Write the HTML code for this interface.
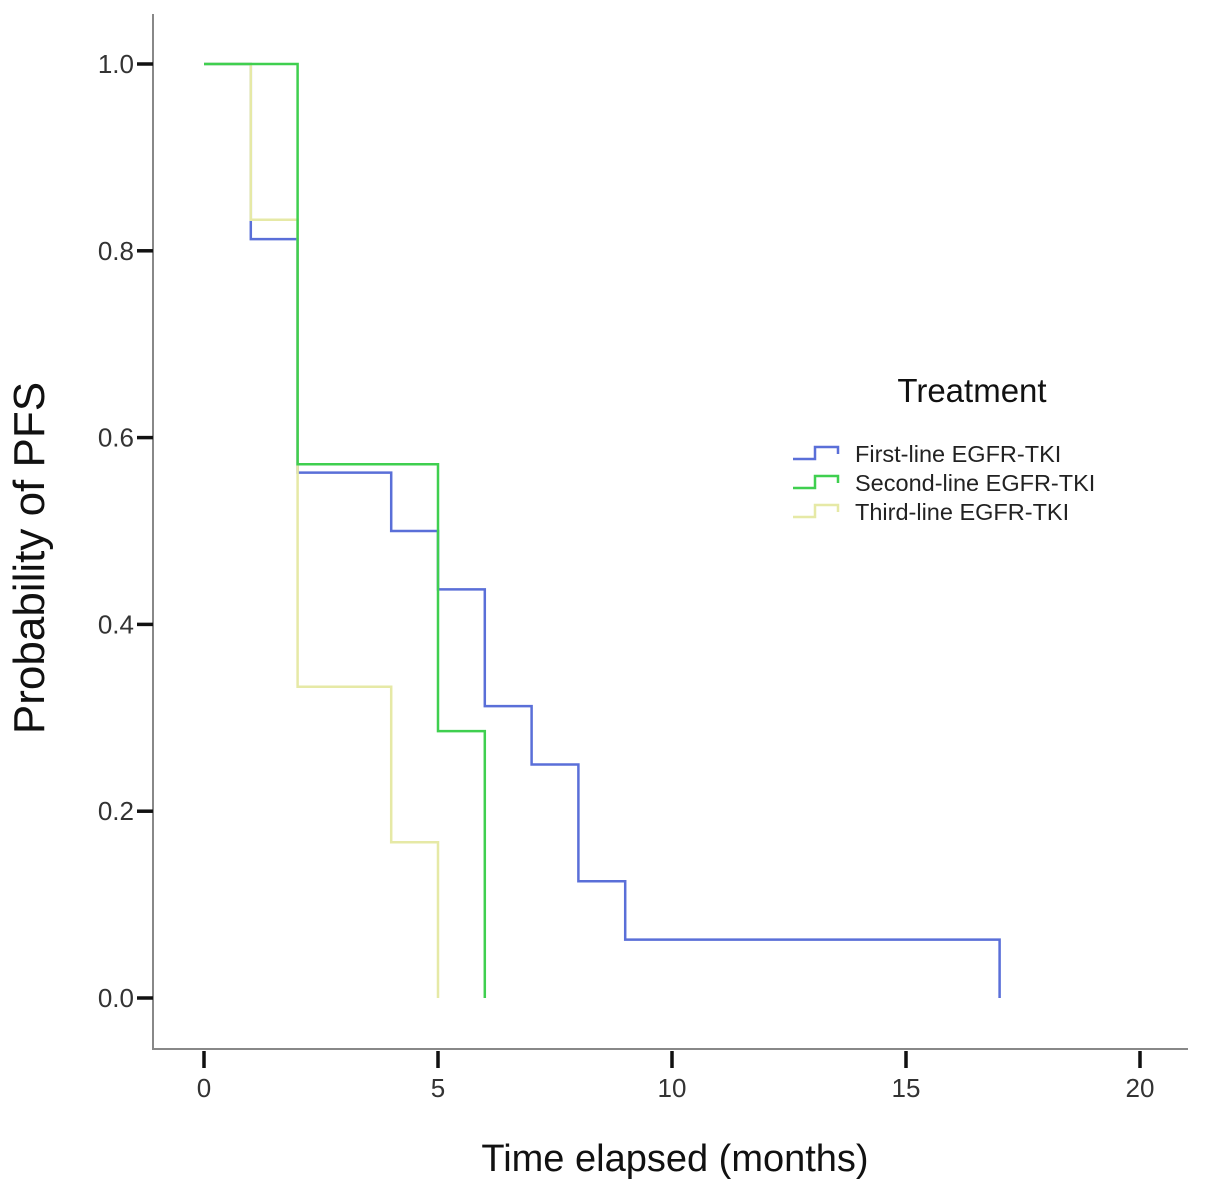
<!DOCTYPE html>
<html><head><meta charset="utf-8"><style>
body{margin:0;background:#fff;}
svg{display:block;font-family:"Liberation Sans",Arial,sans-serif;}
</style></head><body>
<svg id="chart" width="1205" height="1191" viewBox="0 0 1205 1191">
<g id="axes"></g>
<g id="curves"></g>
<text x="44" y="558" transform="rotate(-90 44 558)" font-size="44" fill="#111" text-anchor="middle">Probability of PFS</text>
<text x="675" y="1171" font-size="38" fill="#111" text-anchor="middle">Time elapsed (months)</text>
<g>
<text x="972" y="402" font-size="33" fill="#111" text-anchor="middle">Treatment</text>
<g id="legend-items"></g>
</g>
</svg>
<script>
const xTicks=[0,5,10,15,20];
const yTicks=[0,0.2,0.4,0.6,0.8,1.0];
const yTickLabels=["0.0","0.2","0.4","0.6","0.8","1.0"];
const seriesNames=["First-line EGFR-TKI","Second-line EGFR-TKI","Third-line EGFR-TKI"];
const firstTimes=[0,1,2,4,5,6,7,8,9,17];
const firstSurv=[1.0,0.8125,0.5625,0.5,0.4375,0.3125,0.25,0.125,0.0625,0];
const secondTimes=[0,2,5,6];
const secondSurv=[1.0,0.5714,0.2857,0];
const thirdTimes=[0,1,2,4,5];
const thirdSurv=[1.0,0.8333,0.3333,0.1667,0];
const colors=["#5a6fd8","#3fcf4f","#e6e9a6"];

const NS="http://www.w3.org/2000/svg";
function xs(t){return 204+t*46.8;}
function ys(v){return 998-v*934;}
function mk(tag,attrs,parent){const e=document.createElementNS(NS,tag);for(const k in attrs)e.setAttribute(k,attrs[k]);parent.appendChild(e);return e;}
const axes=document.getElementById('axes');
let l=mk('path',{d:'M153,14 V1049 H1188',fill:'none',stroke:'#888',"stroke-width":2},axes);


yTicks.forEach((v,i)=>{
  let t=mk('line',{x1:137,x2:153,y1:ys(v),y2:ys(v),stroke:'#111',"stroke-width":3.5},axes);
  
  
  let tx=mk('text',{x:134,y:ys(v)+9,"font-size":26,fill:'#333',"text-anchor":'end'},axes);
  tx.textContent=yTickLabels[i];
  
  
});
xTicks.forEach(v=>{
  let t=mk('line',{x1:xs(v),x2:xs(v),y1:1051,y2:1068,stroke:'#111',"stroke-width":3.5},axes);
  
  
  let tx=mk('text',{x:xs(v),y:1097,"font-size":26,fill:'#333',"text-anchor":'middle'},axes);
  tx.textContent=String(v);
  
  
});
const cg=document.getElementById('curves');
function step(times,surv){
  let d='M'+xs(times[0])+','+ys(surv[0]);
  for(let i=1;i<times.length;i++){d+=' H'+xs(times[i])+' V'+ys(surv[i]);}
  return d;
}
const allT=[firstTimes,secondTimes,thirdTimes],allS=[firstSurv,secondSurv,thirdSurv];
[0,2,1].forEach(i=>{
  let p=mk('path',{d:step(allT[i],allS[i]),fill:'none',stroke:colors[i],"stroke-width":2.5},cg);
  
  
});
const lg=document.getElementById('legend-items');
seriesNames.forEach((n,i)=>{
  const y=459+i*29;
  let p=mk('path',{d:`M793,${y} H815 V${y-12} H838 V${y-5}`,fill:'none',stroke:colors[i],"stroke-width":2.5},lg);
  
  
  let t=mk('text',{x:855,y:y+3,"font-size":23.5,fill:'#222'},lg);
  t.textContent=n;
  
  
});
</script>
</body></html>
